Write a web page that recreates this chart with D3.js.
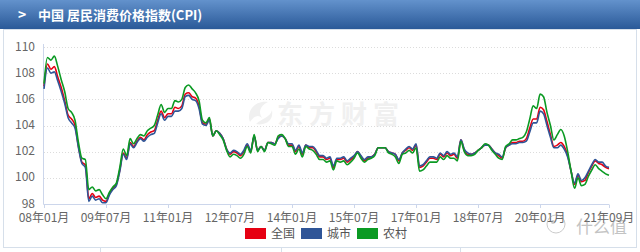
<!DOCTYPE html>
<html>
<head>
<meta charset="utf-8">
<script src="https://cdn.jsdelivr.net/npm/d3@7"></script>
<style>
  body { margin: 0; background: #fff; }
  svg { display: block; font-family: "Noto Sans CJK SC", "Noto Sans", sans-serif; }
</style>
</head>
<body>
<div id="chart"></div>
<script>
'use strict';

// series values, 2008-01 .. 2021-09 (previous year = 100)
var national = [
  107.0,108.7,108.3,108.5,107.7,106.9,105.9,104.8,104.5,104.0,102.4,101.2,
  101.0,98.4,98.8,98.5,98.6,98.3,98.2,98.8,99.2,99.5,100.6,101.9,
  101.5,102.7,102.4,102.8,103.1,102.9,103.3,103.5,103.6,104.4,105.1,104.6,
  104.9,104.9,105.4,105.3,105.5,106.4,106.5,106.2,106.1,105.5,104.2,104.1,
  104.5,103.2,103.6,103.4,103.0,102.2,101.8,102.0,101.9,101.7,102.0,102.5,
  102.0,103.2,102.1,102.4,102.1,102.7,102.7,102.6,103.1,103.2,103.0,102.5,
  102.5,102.0,102.4,101.8,102.5,102.3,102.3,102.0,101.6,101.6,101.4,101.5,
  100.8,101.4,101.4,101.5,101.2,101.4,101.6,102.0,101.6,101.3,101.5,101.6,
  101.8,102.3,102.3,102.3,102.0,101.9,101.8,101.3,101.9,102.1,102.3,102.1,
  102.5,100.8,100.9,101.2,101.5,101.5,101.4,101.8,101.6,101.9,101.7,101.8,
  101.5,102.9,102.1,101.8,101.8,101.9,102.1,102.3,102.5,102.5,102.2,101.9,
  101.7,101.5,102.3,102.5,102.7,102.7,102.8,102.8,103.0,103.8,104.5,104.5,
  105.4,105.2,104.3,103.3,102.4,102.5,102.7,102.4,101.7,100.5,99.5,100.2,
  99.7,99.8,100.4,100.9,101.3,101.1,101.0,100.8,100.7
];
var urban = [
  106.8,108.4,108.0,108.1,107.4,106.6,105.7,104.6,104.2,103.8,102.3,101.1,
  100.8,98.2,98.6,98.3,98.4,98.1,98.1,98.7,99.1,99.4,100.5,101.8,
  101.4,102.6,102.3,102.7,103.0,102.8,103.1,103.3,103.4,104.2,104.9,104.4,
  104.7,104.7,105.1,105.1,105.3,106.2,106.3,106.0,105.9,105.3,104.1,104.0,
  104.4,103.2,103.6,103.4,103.0,102.2,101.9,102.1,102.0,101.8,102.1,102.6,
  102.1,103.2,102.1,102.4,102.1,102.7,102.7,102.6,103.0,103.2,103.0,102.6,
  102.6,102.1,102.5,101.9,102.5,102.4,102.4,102.1,101.7,101.7,101.5,101.6,
  100.9,101.5,101.5,101.6,101.3,101.5,101.7,102.0,101.7,101.4,101.6,101.6,
  101.8,102.3,102.3,102.3,102.0,101.9,101.8,101.4,101.9,102.2,102.4,102.2,
  102.6,100.9,101.0,101.3,101.6,101.6,101.5,101.9,101.7,102.0,101.8,101.9,
  101.6,102.9,102.2,101.9,101.8,101.9,102.1,102.3,102.5,102.5,102.2,101.9,
  101.8,101.6,102.3,102.5,102.6,102.6,102.7,102.7,102.8,103.5,104.2,104.2,
  105.1,104.9,104.0,103.1,102.3,102.3,102.5,102.2,101.6,100.5,99.6,100.3,
  99.8,100.0,100.5,101.0,101.4,101.2,101.2,100.9,100.8
];
var rural = [
  107.2,109.2,109.0,109.3,108.5,107.5,106.6,105.3,105.0,104.4,102.7,101.5,
  101.4,99.1,99.3,99.0,99.1,98.7,98.4,98.9,99.3,99.6,100.8,102.2,
  101.7,103.0,102.6,103.0,103.3,103.2,103.6,103.8,104.0,104.8,105.6,105.0,
  105.3,105.3,105.9,105.8,106.0,106.9,107.1,106.8,106.5,105.9,104.4,104.2,
  104.6,103.2,103.6,103.3,102.9,102.1,101.6,101.8,101.7,101.5,101.8,102.4,
  101.9,103.3,102.0,102.4,102.0,102.7,102.6,102.5,103.2,103.3,103.0,102.4,
  102.4,101.8,102.2,101.6,102.4,102.2,102.1,101.8,101.4,101.4,101.2,101.3,
  100.6,101.3,101.2,101.3,101.0,101.2,101.5,101.9,101.5,101.2,101.4,101.5,
  101.7,102.3,102.3,102.3,101.9,101.8,101.6,101.1,101.8,101.9,102.1,101.9,
  102.3,100.5,100.6,100.9,101.2,101.2,101.2,101.6,101.4,101.7,101.5,101.5,
  101.3,102.8,102.0,101.7,101.7,101.8,102.1,102.3,102.6,102.5,102.1,101.8,
  101.5,101.4,102.4,102.6,102.9,102.9,103.0,103.1,103.5,104.5,105.5,105.3,
  106.4,106.2,105.0,104.0,102.9,103.3,103.7,103.2,102.0,100.5,99.2,100.0,
  99.4,99.5,100.1,100.6,101.0,100.7,100.5,100.3,100.2
];

var seriesNames = ['全国', '城市', '农村'];
var seriesColors = ['#e60012', '#2f5597', '#0b9a23'];
var tickMonths = [0, 18, 36, 54, 72, 90, 108, 126, 144, 164];
var tickLabels = ['08年01月','09年07月','11年01月','12年07月','14年01月','15年07月','17年01月','18年07月','20年01月','21年09月'];
var yTicks = [98, 100, 102, 104, 106, 108, 110];

var W = 640, H = 252;
var svg = d3.select('#chart').append('svg').attr('width', W).attr('height', H);

// header bar
var defs = svg.append('defs');
var grad = defs.append('linearGradient').attr('id', 'hdr').attr('x1', 0).attr('y1', 0).attr('x2', 0).attr('y2', 1);
grad.append('stop').attr('offset', '0%').attr('stop-color', '#6392cc');
grad.append('stop').attr('offset', '100%').attr('stop-color', '#2a5998');
svg.append('rect').attr('x', 0).attr('y', 0).attr('width', W).attr('height', 29).attr('fill', 'url(#hdr)');
svg.append('text').attr('x', 18).attr('y', 20).attr('fill', '#fff').attr('font-size', 14).attr('font-weight', 'bold').text('>');
svg.append('text').attr('x', 38).attr('y', 19.5).attr('fill', '#fff').attr('font-size', 13).attr('font-weight', 'bold')
  .text('中国 居民消费价格指数(CPI)');

// panel frame + row below
svg.append('rect').attr('x', 3.5).attr('y', 29.5).attr('width', 633).attr('height', 218)
  .attr('fill', 'none').attr('stroke', '#d6dfea');
[100, 281, 460].forEach(function(x){
  svg.append('line').attr('x1', x + 0.5).attr('x2', x + 0.5).attr('y1', 248).attr('y2', 252).attr('stroke', '#d6dfea');
});

var x = d3.scaleLinear().domain([0, 164]).range([44, 609]);
var y = d3.scaleLinear().domain([98, 110]).range([204, 47]);

// watermark
var wm = svg.append('g').attr('fill', '#f0f0f0');
wm.append('path').attr('d', 'M250,122 C246,110 256,100 268,102 C260,106 258,112 262,118 C258,114 254,116 250,122 Z');
wm.append('path').attr('d', 'M256,124 C262,118 270,118 272,110 C274,120 266,126 256,124 Z');
wm.append('text').attr('x', 277).attr('y', 124).attr('font-size', 26).attr('font-weight', 'bold')
  .attr('letter-spacing', 6).text('东方财富');

// grid
svg.append('g').selectAll('line').data(yTicks.slice(1)).enter().append('line')
  .attr('x1', 44).attr('x2', 609)
  .attr('y1', function(d){ return Math.round(y(d)) + 0.5; })
  .attr('y2', function(d){ return Math.round(y(d)) + 0.5; })
  .attr('stroke', '#dcdcdc').attr('stroke-dasharray', '1,2');

// axes
svg.append('line').attr('x1', 43.5).attr('x2', 43.5).attr('y1', 44).attr('y2', 204.5).attr('stroke', '#ccd6eb');
svg.append('line').attr('x1', 43.5).attr('x2', 609).attr('y1', 204.5).attr('y2', 204.5).attr('stroke', '#ccd6eb');
svg.append('g').selectAll('line').data(tickMonths).enter().append('line')
  .attr('x1', function(d){ return Math.round(x(d)) + 0.5; })
  .attr('x2', function(d){ return Math.round(x(d)) + 0.5; })
  .attr('y1', 204.5).attr('y2', 208).attr('stroke', '#ccd6eb');

svg.append('g').selectAll('text').data(yTicks).enter().append('text')
  .attr('x', 35).attr('y', function(d){ return y(d) + 3.5; })
  .attr('text-anchor', 'end').attr('font-size', 12).attr('fill', '#666')
  .text(function(d){ return d; });

svg.append('g').selectAll('text').data(tickMonths).enter().append('text')
  .attr('x', function(d){ return x(d); }).attr('y', 222)
  .attr('text-anchor', 'middle').attr('font-size', 12).attr('fill', '#666')
  .text(function(d, i){ return tickLabels[i]; });

// lines
var line = d3.line()
  .x(function(d, i){ return x(i); })
  .y(function(d){ return y(d); })
  .curve(d3.curveMonotoneX);

[national, urban, rural].forEach(function(s, k){
  svg.append('path').datum(s)
    .attr('d', line)
    .attr('fill', 'none')
    .attr('stroke', seriesColors[k])
    .attr('stroke-width', 1.6)
    .attr('stroke-linejoin', 'round');
});

// legend
var lg = svg.append('g');
var legendX = [245, 301, 357];
seriesNames.forEach(function(n, k){
  lg.append('rect').attr('x', legendX[k]).attr('y', 228).attr('width', 21).attr('height', 11)
    .attr('fill', seriesColors[k]);
  lg.append('text').attr('x', legendX[k] + 26).attr('y', 238).attr('font-size', 12).attr('fill', '#555').text(n);
});

// corner watermark
var cw = svg.append('g').attr('opacity', 0.5);
cw.append('circle').attr('cx', 556).attr('cy', 224).attr('r', 9).attr('fill', 'none').attr('stroke', '#999').attr('stroke-width', 1);
cw.append('circle').attr('cx', 553).attr('cy', 222).attr('r', 2).attr('fill', '#999');
cw.append('text').attr('x', 576).attr('y', 233).attr('font-size', 17).attr('fill', '#888').text('什么值');
</script>
</body>
</html>
